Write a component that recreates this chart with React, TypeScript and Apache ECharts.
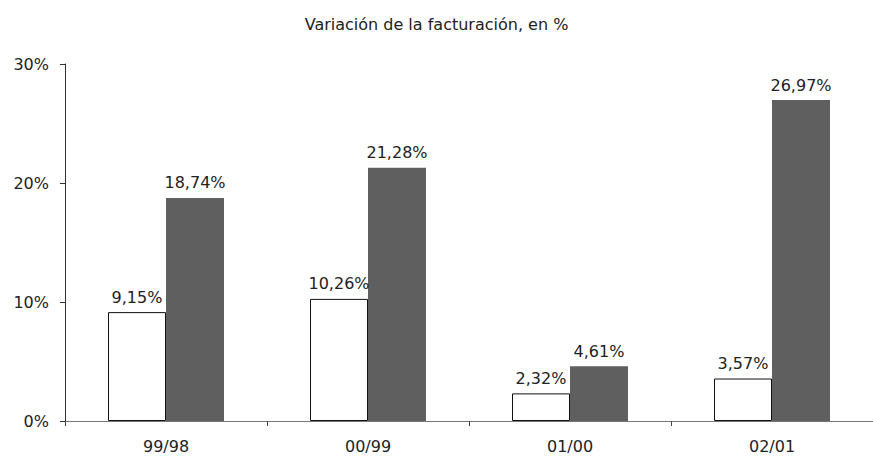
import React, { useEffect, useRef } from "react";
import * as echarts from "echarts";

const categories = ["99/98", "00/99", "01/00", "02/01"];
const seriesA = [9.15, 10.26, 2.32, 3.57];
const seriesB = [18.74, 21.28, 4.61, 26.97];
const yTicks = [0, 10, 20, 30];
const title = "Variación de la facturación, en %";

const FONT = "'DejaVu Sans', sans-serif";
const fmt = (v: number) => v.toFixed(2).replace(".", ",") + "%";

export default function App() {
  const ref = useRef<HTMLDivElement>(null);
  useEffect(() => {
    document.body.style.margin = "0";
    const chart = echarts.init(ref.current!, null, { renderer: "svg" });
    const label = {
      show: true,
      position: "top",
      distance: 7,
      fontFamily: FONT,
      fontSize: 16,
      color: "#222",
      formatter: (p: any) => fmt(p.value),
    };
    chart.setOption({
      animation: false,
      backgroundColor: "#ffffff",
      title: {
        text: title,
        left: "center",
        top: 11,
        textStyle: { fontFamily: FONT, fontSize: 16, fontWeight: "normal", color: "#222" },
      },
      grid: { left: 65, top: 64, width: 816, height: 357, containLabel: false },
      xAxis: {
        type: "category",
        data: categories,
        axisLine: { lineStyle: { color: "#777", width: 1 } },
        axisTick: { show: true, length: 5, alignWithLabel: false, lineStyle: { color: "#444" } },
        axisLabel: { fontFamily: FONT, fontSize: 16, color: "#222", margin: 17 },
      },
      yAxis: {
        type: "value",
        min: yTicks[0],
        max: yTicks[yTicks.length - 1],
        interval: 10,
        splitLine: { show: false },
        axisLine: { show: true, lineStyle: { color: "#333", width: 1 } },
        axisTick: { show: true, length: 5, lineStyle: { color: "#333" } },
        axisLabel: {
          fontFamily: FONT,
          fontSize: 16,
          color: "#222",
          margin: 16,
          formatter: (v: number) => v + "%",
        },
      },
      series: [
        {
          type: "bar",
          data: seriesA,
          barGap: "0%",
          barWidth: 58,
          itemStyle: { color: "#ffffff", borderColor: "#111", borderWidth: 1 },
          label,
        },
        {
          type: "bar",
          data: seriesB,
          barWidth: 58,
          itemStyle: { color: "#5f5f60" },
          label,
        },
      ],
    });
    return () => chart.dispose();
  }, []);
  return <div ref={ref} style={{ width: 873, height: 457 }} />;
}
